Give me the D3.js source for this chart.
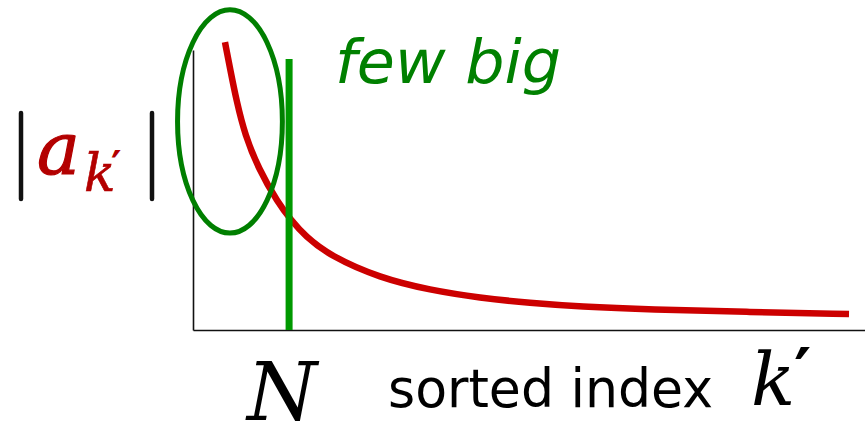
<!DOCTYPE html>
<html>
<head>
<meta charset="utf-8">
<script src="https://cdn.jsdelivr.net/npm/d3@7"></script>
<style>
  html, body { margin: 0; padding: 0; background: #fff; }
  svg { display: block; }
</style>
</head>
<body>
<svg id="chart" width="865" height="424"></svg>
<script>
// Sorted coefficient magnitudes |a_k'| against their sorted index k'
const sortedIndex = [4.76, 5.51, 6.5, 7.74, 9.72, 12.65, 14.58, 16.67, 20.39, 27.83, 35.27, 42.71, 50.15, 57.59, 68.01, 82.89, 97.62];
const magnitude   = [95.9, 87.2, 76.1, 65.0, 53.9, 42.3, 36.7, 31.3, 24.7, 17.3, 13.3, 10.7, 9.0, 7.8, 6.8, 6.0, 5.3];

// Cut-off index N: the few big coefficients lie to its left
const cutoffN = 14.3;
const cutoffTop = 90.3;

// Ellipse around the few big coefficients (data units)
const bigRegion = { cx: 5.5, cy: 69.5, rx: 7.8, ry: 37.2 };

// Axis extents
const xDomain = [0, 100];
const yTop = 93.3;

const svg = d3.select("#chart");

const x = d3.scaleLinear().domain(xDomain).range([193, 865]);
const y = d3.scaleLinear().domain([0, yTop]).range([330, 50]);

// Plain axes: domain lines only, no ticks
const xAxis = d3.axisBottom(x).tickValues([]).tickSizeOuter(0);
const yAxis = d3.axisLeft(y).tickValues([]).tickSizeOuter(0);

svg.append("g").attr("transform", `translate(0,${y(0)})`).call(xAxis)
  .select(".domain").attr("stroke", "#111").attr("stroke-width", 1.6);
svg.append("g").attr("transform", `translate(${x(0)},0)`).call(yAxis)
  .select(".domain").attr("stroke", "#111").attr("stroke-width", 1.6);

// Decay curve
const points = sortedIndex.map((k, i) => [k, magnitude[i]]);
const line = d3.line()
  .x(d => x(d[0]))
  .y(d => y(d[1]))
  .curve(d3.curveBasis);

svg.append("path")
  .datum(points)
  .attr("d", line)
  .attr("fill", "none")
  .attr("stroke", "#cc0000")
  .attr("stroke-width", 6.5);

// Cut-off line at N
svg.append("line")
  .attr("x1", x(cutoffN)).attr("x2", x(cutoffN))
  .attr("y1", y(0)).attr("y2", y(cutoffTop))
  .attr("stroke", "#009900")
  .attr("stroke-width", 7);

// Ellipse marking the few big coefficients
svg.append("ellipse")
  .attr("cx", x(bigRegion.cx))
  .attr("cy", y(bigRegion.cy))
  .attr("rx", x(bigRegion.rx) - x(0))
  .attr("ry", y(0) - y(bigRegion.ry))
  .attr("fill", "none")
  .attr("stroke", "#007f00")
  .attr("stroke-width", 5);

// "few big" annotation
svg.append("text")
  .attr("x", 335).attr("y", 83)
  .attr("font-family", "DejaVu Sans, Verdana, sans-serif")
  .attr("font-style", "italic")
  .attr("font-size", 60)
  .attr("fill", "#008000")
  .attr("textLength", 226)
  .attr("lengthAdjust", "spacingAndGlyphs")
  .text("few big");

// Y label |a_k'|
const mathFont = "DejaVu Serif, Liberation Serif, serif";
const primeFont = "DejaVu Sans, sans-serif";
[21, 152].forEach(bx => {
  svg.append("line")
    .attr("x1", bx).attr("x2", bx)
    .attr("y1", 113).attr("y2", 199)
    .attr("stroke", "#111")
    .attr("stroke-width", 4.5)
    .attr("stroke-linecap", "round");
});
svg.append("text")
  .attr("x", 37).attr("y", 174)
  .attr("font-family", mathFont)
  .attr("font-style", "italic")
  .attr("font-size", 72)
  .attr("fill", "#b30000")
  .attr("stroke", "#b30000")
  .attr("stroke-width", 1.2)
  .text("a");

// subscript k with its prime, as one text run
const sub = svg.append("text")
  .attr("x", 84).attr("y", 191)
  .attr("font-family", mathFont)
  .attr("font-style", "italic")
  .attr("font-size", 52)
  .attr("fill", "#b30000");
sub.append("tspan")
  .attr("stroke", "#b30000")
  .attr("stroke-width", 0.6)
  .text("k");
sub.append("tspan")
  .attr("x", 111).attr("y", 180)
  .attr("font-family", primeFont)
  .attr("font-style", "normal")
  .attr("font-weight", "bold")
  .attr("font-size", 40)
  .text("′");

// N below the cut-off
svg.append("text")
  .attr("x", x(cutoffN) - 7).attr("y", 420)
  .attr("text-anchor", "middle")
  .attr("font-family", mathFont)
  .attr("font-style", "italic")
  .attr("font-size", 80)
  .attr("fill", "#000")
  .text("N");

// X label
svg.append("text")
  .attr("x", 388).attr("y", 407)
  .attr("font-family", "DejaVu Sans, Verdana, sans-serif")
  .attr("font-size", 54)
  .attr("fill", "#000")
  .attr("textLength", 325)
  .attr("lengthAdjust", "spacingAndGlyphs")
  .text("sorted index");

// k' at the end of the axis, as one text run
const kLabel = svg.append("text")
  .attr("x", 751).attr("y", 405)
  .attr("font-family", mathFont)
  .attr("font-style", "italic")
  .attr("font-size", 73)
  .attr("fill", "#000");
kLabel.append("tspan").text("k");
kLabel.append("tspan")
  .attr("x", 794).attr("y", 395)
  .attr("font-family", primeFont)
  .attr("font-style", "normal")
  .attr("font-weight", "bold")
  .attr("font-size", 66)
  .text("′");
</script>
</body>
</html>
